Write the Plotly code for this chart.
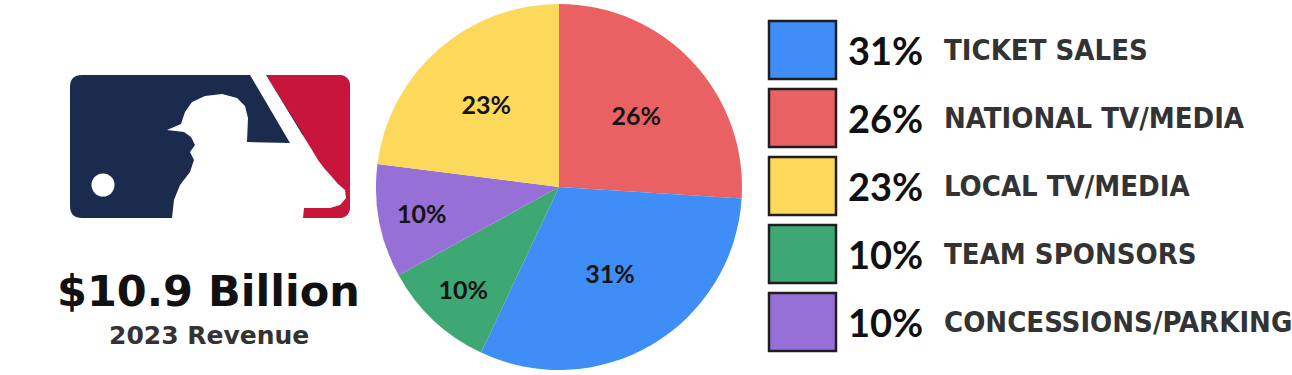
import plotly.graph_objects as go

W, H = 1292, 375

# ---- data (legend order) ----
categories = ["TICKET SALES", "NATIONAL TV/MEDIA", "LOCAL TV/MEDIA", "TEAM SPONSORS", "CONCESSIONS/PARKING"]
shares = [31, 26, 23, 10, 10]
colors = ["#3F8DF6", "#EA6163", "#FCD85B", "#3DA873", "#9670D6"]
# clockwise order of slices starting at 12 o'clock
pie_order = [1, 0, 3, 4, 2]
title_text = "$10.9 Billion"
subtitle_text = "2023 Revenue"


def px(x):
    return x / W


def py(y):
    return 1 - y / H


def path(points_cmds):
    out = []
    for cmd in points_cmds:
        if isinstance(cmd, str):
            out.append(cmd)
        else:
            out.append(f"{px(cmd[0]):.5f},{py(cmd[1]):.5f}")
    return " ".join(out)


fig = go.Figure()

# ---- pie ----
cx, cy, r = 559, 187, 183
fig.add_trace(go.Pie(
    labels=[categories[i] for i in pie_order],
    values=[shares[i] for i in pie_order],
    marker=dict(colors=[colors[i] for i in pie_order], line=dict(width=0)),
    sort=False,
    direction="clockwise",
    rotation=0,
    texttemplate="%{value}%",
    textposition="inside",
    insidetextorientation="horizontal",
    textfont=dict(family="Lato", size=25, color="#141414", weight="bold"),
    domain=dict(x=[px(cx - r), px(cx + r)], y=[py(cy + r), py(cy - r)]),
    hoverinfo="label+percent",
    showlegend=False,
))

shapes = []

# ---- MLB-style logo ----
navy = "#1A2B4E"
red = "#C8153C"
x0, x1, y0, y1, rr = 70, 350, 75, 218, 12
rect_path = path(["M", (x0 + rr, y0), "L", (x1 - rr, y0), "Q", (x1, y0), (x1, y0 + rr),
                  "L", (x1, y1 - rr), "Q", (x1, y1), (x1 - rr, y1),
                  "L", (x0 + rr, y1), "Q", (x0, y1), (x0, y1 - rr),
                  "L", (x0, y0 + rr), "Q", (x0, y0), (x0 + rr, y0), "Z"])
shapes.append(dict(type="path", xref="paper", yref="paper", path=rect_path,
                   fillcolor=navy, line=dict(width=0), layer="above"))
red_path = path(["M", (266, y0), "L", (x1 - rr, y0), "Q", (x1, y0), (x1, y0 + rr),
                 "L", (x1, y1 - rr), "Q", (x1, y1), (x1 - rr, y1),
                 "L", (303, y1), "L", (303, 134), "Z"])
shapes.append(dict(type="path", xref="paper", yref="paper", path=red_path,
                   fillcolor=red, line=dict(width=0), layer="above"))
sil = [(167, 130), (181, 124), (185, 112), (192, 102), (205, 96), (222, 94), (237, 98),
       (245, 106), (248, 118), (247, 142), (290, 143), (250, 75), (266, 75), (302, 134),
       (307, 142), (312, 150), (318, 160), (324, 168), (332, 177), (338, 184), (345, 190),
       (346, 198), (340, 205), (330, 208), (304, 208), (303, 218), (172, 218), (174, 200),
       (180, 185), (190, 172), (194, 160), (190, 152), (195, 145), (191, 137), (184, 132)]
cmds = ["M", sil[0]]
for p in sil[1:]:
    cmds += ["L", p]
cmds.append("Z")
shapes.append(dict(type="path", xref="paper", yref="paper", path=path(cmds),
                   fillcolor="white", line=dict(width=0), layer="above"))
bx, by, br = 103, 185, 11.5
shapes.append(dict(type="circle", xref="paper", yref="paper",
                   x0=px(bx - br), x1=px(bx + br), y0=py(by + br), y1=py(by - br),
                   fillcolor="white", line=dict(width=0), layer="above"))

annotations = [
    dict(text=f"<b>{title_text}</b>", x=px(208), y=py(291), xref="paper", yref="paper",
         showarrow=False, xanchor="center", yanchor="middle",
         font=dict(family="DejaVu Sans", size=43, color="#111111")),
    dict(text=f"<b>{subtitle_text}</b>", x=px(209), y=py(335), xref="paper", yref="paper",
         showarrow=False, xanchor="center", yanchor="middle",
         font=dict(family="DejaVu Sans", size=25, color="#333333")),
]

# ---- custom legend ----
for i, (cat, val, col) in enumerate(zip(categories, shares, colors)):
    top = 21 + 68 * i
    shapes.append(dict(type="rect", xref="paper", yref="paper",
                       x0=px(769), x1=px(836), y0=py(top + 58), y1=py(top),
                       fillcolor=col, line=dict(color="#1E1E1E", width=2.5)))
    yc = top + 29
    annotations.append(dict(text=f"<b>{val}%</b>", x=px(846), y=py(yc), xref="paper", yref="paper",
                            showarrow=False, xanchor="left", yanchor="middle",
                            font=dict(family="Lato", size=38, color="#111111")))
    annotations.append(dict(text=f"<b>{cat}</b>", x=px(942), y=py(yc), xref="paper", yref="paper",
                            showarrow=False, xanchor="left", yanchor="middle",
                            font=dict(family="DejaVu Sans Condensed", size=29,
                                      color="#333333")))

fig.update_layout(
    width=W, height=H,
    margin=dict(l=0, r=0, t=0, b=0),
    paper_bgcolor="white", plot_bgcolor="white",
    shapes=shapes, annotations=annotations,
    showlegend=False,
)

fig.write_html("out.html")
